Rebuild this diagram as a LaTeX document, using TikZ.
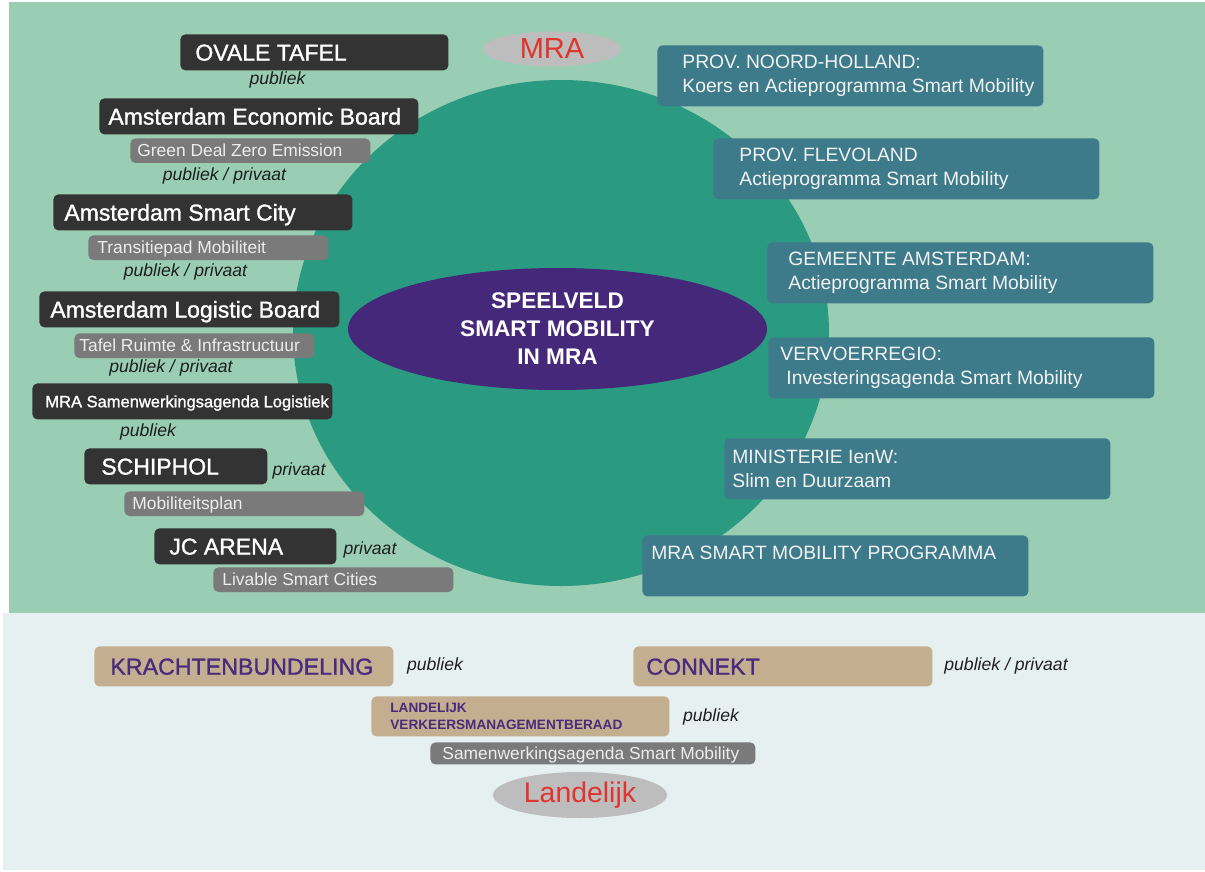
\documentclass[tikz,border=0pt]{standalone}
\usepackage{fontspec}
\setmainfont{Liberation Sans}
\newfontfamily\medfont[FakeBold=1.2]{Liberation Sans}
\usetikzlibrary{shapes.geometric}

\definecolor{panelgreen}{HTML}{99CDB4}
\definecolor{panellight}{HTML}{E7F0F1}
\definecolor{fieldgreen}{HTML}{2A9A80}
\definecolor{fieldpurple}{HTML}{45287A}
\definecolor{ovalgrey}{HTML}{BDBDBD}
\definecolor{labelred}{HTML}{E0342E}
\definecolor{boxdark}{HTML}{333333}
\definecolor{boxgrey}{HTML}{7A7A7A}
\definecolor{greytxt}{HTML}{EDEDED}
\definecolor{boxteal}{HTML}{3E7B8A}
\definecolor{tealtxt}{HTML}{F2F2F2}
\definecolor{boxtan}{HTML}{C4AE90}
\definecolor{textpurple}{HTML}{4A2B7C}
\definecolor{labeltxt}{HTML}{1E1E1E}

\begin{document}
\begin{tikzpicture}[x=0.5pt,y=-0.5pt,
		darkbox/.style={rectangle,rounded corners=2.5pt,fill=boxdark,anchor=north west,minimum height=18pt,inner sep=0pt},
		greybox/.style={rectangle,rounded corners=2.5pt,fill=boxgrey,anchor=north west,minimum height=12.3pt,minimum width=120pt,inner sep=0pt},
		tealbox/.style={rectangle,rounded corners=2.5pt,fill=boxteal,anchor=north west,minimum height=30.5pt,minimum width=193pt,inner sep=0pt},
		tanbox/.style={rectangle,rounded corners=2.5pt,fill=boxtan,anchor=north west,minimum height=20pt,minimum width=149.5pt,inner sep=0pt},
		darktext/.style={anchor=west,inner sep=0pt,text=white,font=\medfont\fontsize{11.5}{13}\selectfont,text height=8.2pt,text depth=0pt},
		greytext/.style={anchor=west,inner sep=0pt,text=greytxt,font=\fontsize{8.7}{10}\selectfont,text height=6.2pt,text depth=0pt},
		tealtext/.style={anchor=west,inner sep=0pt,text=tealtxt,align=left,font=\fontsize{9.65}{12}\selectfont},
		tantext/.style={anchor=west,inner sep=0pt,text=textpurple,font=\medfont\fontsize{11.6}{13}\selectfont,text height=8.3pt,text depth=0pt},
		sector/.style={inner sep=0pt,text=labeltxt,font=\itshape\fontsize{8.8}{10}\selectfont},
		oval/.style={ellipse,fill=ovalgrey,inner sep=0pt,text=labelred},
	]
	\useasboundingbox (0,0) rectangle (1205,872);
	\fill[white] (0,0) rectangle (1205,872);
	\fill[panelgreen] (9,2) rectangle (1205,613);
	\fill[panellight] (3,613) rectangle (1205,870);

	\node[ellipse,fill=fieldgreen,minimum width=268pt,minimum height=253pt,inner sep=0pt] (field) at (561,333) {};
	\node[ellipse,fill=fieldpurple,minimum width=209.5pt,minimum height=61pt,inner sep=0pt,text=white,align=center,font=\bfseries\fontsize{11.3}{14}\selectfont] (core) at (557.5,329) {SPEELVELD\\SMART MOBILITY\\IN MRA};
	\node[oval,minimum width=69pt,minimum height=17.5pt,font=\fontsize{14.5}{16}\selectfont] (mra) at (552,49) {MRA};

	% left column
	\node[darkbox,minimum width=134pt] (ovale) at (180,34) {};
	\node[darktext] (ovaletxt) at ([xshift=7.5pt]ovale.west) {OVALE TAFEL};
	\node[sector] (ovalepub) at (277.5,80) {publiek};
	\node[darkbox,minimum width=159.5pt] (aeb) at (99,98) {};
	\node[darktext] (aebtxt) at ([xshift=4.5pt]aeb.west) {Amsterdam Economic Board};
	\node[greybox] (gdze) at (130,138) {};
	\node[greytext] (gdzetxt) at ([xshift=3.5pt]gdze.west) {Green Deal Zero Emission};
	\node[sector] (aebpub) at (224.5,176) {publiek / privaat};
	\node[darkbox,minimum width=149.5pt] (asc) at (53,194) {};
	\node[darktext] (asctxt) at ([xshift=5.5pt]asc.west) {Amsterdam Smart City};
	\node[greybox] (tpm) at (88,235) {};
	\node[greytext] (tpmtxt) at ([xshift=4.5pt]tpm.west) {Transitiepad Mobiliteit};
	\node[sector] (ascpub) at (185.5,272) {publiek / privaat};
	\node[darkbox,minimum width=150pt] (alb) at (39,291) {};
	\node[darktext] (albtxt) at ([xshift=5.5pt]alb.west) {Amsterdam Logistic Board};
	\node[greybox] (tri) at (74,333) {};
	\node[greytext] (tritxt) at ([xshift=2.5pt]tri.west) {Tafel Ruimte \& Infrastructuur};
	\node[sector] (albpub) at (171,368) {publiek / privaat};
	\node[darkbox,minimum width=150pt] (mrasa) at (32,383) {};
	\node[darktext,font=\medfont\fontsize{8.25}{10}\selectfont,text height=5.9pt] (mrasatxt) at ([xshift=6.5pt]mrasa.west) {MRA Samenwerkingsagenda Logistiek};
	\node[sector] (mrasapub) at (148,432) {publiek};
	\node[darkbox,minimum width=91.5pt] (schiphol) at (84,448) {};
	\node[darktext] (schipholtxt) at ([xshift=8.5pt]schiphol.west) {SCHIPHOL};
	\node[sector] (schipholpriv) at (299,471) {privaat};
	\node[greybox] (mobplan) at (124,491) {};
	\node[greytext] (mobplantxt) at ([xshift=4pt]mobplan.west) {Mobiliteitsplan};
	\node[darkbox,minimum width=91pt] (arena) at (154,528) {};
	\node[darktext] (arenatxt) at ([xshift=7.5pt]arena.west) {JC ARENA};
	\node[sector] (arenapriv) at (370,550) {privaat};
	\node[greybox] (lsc) at (213,567) {};
	\node[greytext] (lsctxt) at ([xshift=4.5pt]lsc.west) {Livable Smart Cities};

	% right column
	\node[tealbox] (nh) at (657,45) {};
	\node[tealtext] (nhtxt) at ([xshift=12.5pt]nh.west) {PROV. NOORD-HOLLAND:\\Koers en Actieprogramma Smart Mobility};
	\node[tealbox] (flevo) at (713,138) {};
	\node[tealtext] (flevotxt) at ([xshift=13pt]flevo.west) {PROV. FLEVOLAND\\Actieprogramma Smart Mobility};
	\node[tealbox] (gemeente) at (767,242) {};
	\node[tealtext] (gemeentetxt) at ([xshift=10.5pt]gemeente.west) {GEMEENTE AMSTERDAM:\\Actieprogramma Smart Mobility};
	\node[tealbox] (vervoer) at (768,337) {};
	\node[tealtext] (vervoertxt) at ([xshift=6pt]vervoer.west) {VERVOERREGIO:\\\hspace*{3pt}Investeringsagenda Smart Mobility};
	\node[tealbox] (ienw) at (724,438) {};
	\node[tealtext] (ienwtxt) at ([xshift=4pt]ienw.west) {MINISTERIE IenW:\\Slim en Duurzaam};
	\node[tealbox] (mraprog) at (642,535) {};
	\node[tealtext,anchor=north west,text height=6.9pt] (mraprogtxt) at ([xshift=4.5pt,yshift=-5pt]mraprog.north west) {MRA SMART MOBILITY PROGRAMMA};

	% national level
	\node[tanbox] (kracht) at (94,646) {};
	\node[tantext] (krachttxt) at ([xshift=8pt]kracht.west) {KRACHTENBUNDELING};
	\node[sector] (krachtpub) at (435,666) {publiek};
	\node[tanbox] (connekt) at (633,646) {};
	\node[tantext] (connekttxt) at ([xshift=6.5pt]connekt.west) {CONNEKT};
	\node[sector,anchor=west] (connektpub) at (944,666) {publiek / privaat};
	\node[tanbox,minimum width=149pt] (lvmb) at (371,696) {};
	\node[anchor=west,inner sep=0pt,text=textpurple,align=left,font=\bfseries\fontsize{6.8}{8.5}\selectfont] (lvmbtxt) at ([xshift=9.5pt]lvmb.west) {LANDELIJK\\VERKEERSMANAGEMENTBERAAD};
	\node[sector] (lvmbpub) at (711,717) {publiek};
	\node[greybox,minimum width=162.5pt,minimum height=11pt] (swa) at (430,742) {};
	\node[greytext] (swatxt) at ([xshift=6pt]swa.west) {Samenwerkingsagenda Smart Mobility};
	\node[oval,minimum width=87pt,minimum height=23pt,font=\fontsize{14.2}{16}\selectfont] (landelijk) at (580,795) {Landelijk};
\end{tikzpicture}
\end{document}
